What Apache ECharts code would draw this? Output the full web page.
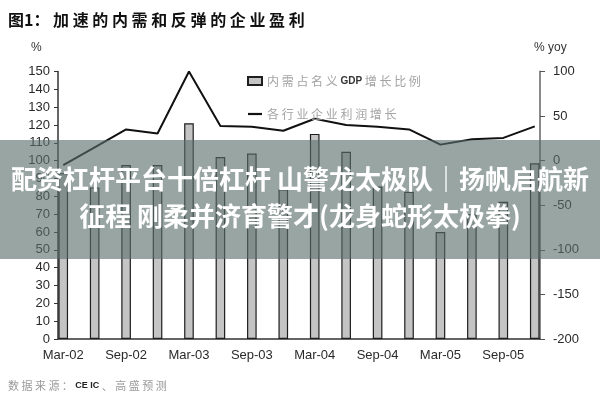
<!DOCTYPE html>
<html>
<head>
<meta charset="utf-8">
<script src="https://cdn.jsdelivr.net/npm/echarts@6/dist/echarts.min.js"></script>
<style>
html,body{margin:0;padding:0;background:#fff;}
#chart{width:600px;height:400px;}
</style>
</head>
<body>
<div id="chart"></div>
<script>
var months = ['Mar-02','Apr-02','May-02','Jun-02','Jul-02','Aug-02','Sep-02','Oct-02','Nov-02','Dec-02',
  'Jan-03','Feb-03','Mar-03','Apr-03','May-03','Jun-03','Jul-03','Aug-03','Sep-03','Oct-03','Nov-03','Dec-03',
  'Jan-04','Feb-04','Mar-04','Apr-04','May-04','Jun-04','Jul-04','Aug-04','Sep-04','Oct-04','Nov-04','Dec-04',
  'Jan-05','Feb-05','Mar-05','Apr-05','May-05','Jun-05','Jul-05','Aug-05','Sep-05','Oct-05','Nov-05','Dec-05'];
var quarters = ['Mar-02','Jun-02','Sep-02','Dec-02','Mar-03','Jun-03','Sep-03','Dec-03',
  'Mar-04','Jun-04','Sep-04','Dec-04','Mar-05','Jun-05','Sep-05','Dec-05'];
var demandShare = [93, 85, 97.5, 97.5, 121, 102, 104, 84, 115, 105, 85.5, 82.5, 60, 70, 77, 98.5];
var profitGrowth = [-5, 15, 35, 30.5, 100, 39, 38, 33.5, 47, 40, 38, 35, 18, 24, 25.5, 38.5];
var leftTicks = [0, 150, 10];
var rightTicks = [-200, 100, 50];
var barName = '内需占名义GDP增长比例';
var lineName = '各行业企业利润增长';

function byMonth(vals) {
  return months.map(function (m) {
    var i = quarters.indexOf(m);
    return i >= 0 ? vals[i] : null;
  });
}
function spaced(s) { return s.split('').join(' '); }

var chart = echarts.init(document.getElementById('chart'), null, {renderer: 'canvas'});
var axisFont = {fontFamily: 'Liberation Sans, Arial, sans-serif', fontSize: 13, color: '#2a2a2a'};
var cjk = 'Noto Sans CJK SC, sans-serif';

chart.setOption({
  animation: false,
  backgroundColor: '#fff',
  grid: {left: 58, right: 60, top: 71.5, bottom: 61},
  legend: {
    orient: 'vertical', left: 242, top: 70, itemGap: 21,
    itemWidth: 14, itemHeight: 8,
    data: [{name: barName, icon: 'rect'}, {name: lineName, icon: 'path://M0,0L14,0L14,2.2L0,2.2Z'}],
    formatter: function (n) {
      if (n === barName) return '{a|' + spaced('内需占名义') + ' }{b|GDP}{a| ' + spaced('增长比例') + '}';
      return '{a|' + spaced(n) + '}';
    },
    textStyle: {
      rich: {
        a: {fontFamily: cjk, fontSize: 12, color: '#a3a3a3'},
        b: {fontFamily: 'Liberation Sans, sans-serif', fontSize: 10, fontWeight: 'bold', color: '#333'}
      }
    }
  },
  xAxis: {
    type: 'category', data: months, boundaryGap: true,
    axisLine: {lineStyle: {color: '#333', width: 1.5}},
    axisTick: {interval: 5, length: 4, lineStyle: {color: '#333'}},
    axisLabel: Object.assign({interval: 5, margin: 10}, axisFont),
    splitLine: {show: false}
  },
  yAxis: [{
    type: 'value', min: leftTicks[0], max: leftTicks[1], interval: leftTicks[2],
    axisLine: {show: true, lineStyle: {color: '#333', width: 1.5}},
    axisTick: {show: true, length: 4, lineStyle: {color: '#333'}},
    axisLabel: Object.assign({margin: 8}, axisFont),
    splitLine: {show: false}
  }, {
    type: 'value', min: rightTicks[0], max: rightTicks[1], interval: rightTicks[2],
    position: 'right',
    axisLine: {show: true, lineStyle: {color: '#8a8a8a', width: 2}},
    axisTick: {show: true, length: 5, lineStyle: {color: '#555'}},
    axisLabel: Object.assign({margin: 13}, axisFont),
    splitLine: {show: false}
  }],
  series: [{
    name: barName, type: 'bar', data: byMonth(demandShare), yAxisIndex: 0,
    barWidth: '92%',
    itemStyle: {color: '#c4c4c4', borderColor: '#1e1e1e', borderWidth: 1.2}
  }, {
    name: lineName, type: 'line', data: byMonth(profitGrowth), yAxisIndex: 1,
    connectNulls: true, symbol: 'none',
    lineStyle: {color: '#111', width: 2},
    itemStyle: {color: '#111'}
  }],
  graphic: [
    {type: 'text', left: 8, top: 12, style: {text: '图1： ' + spaced('加速的内需和反弹的企业盈利'), font: 'bold 16px ' + cjk, fill: '#111'}},
    {type: 'text', left: 31, top: 42, style: {text: '%', font: '12px Liberation Sans, sans-serif', fill: '#333'}},
    {type: 'text', left: 534, top: 42, style: {text: '% yoy', font: '12px Liberation Sans, sans-serif', fill: '#333'}},
    {type: 'text', left: 8, top: 380, style: {
      text: '{a|' + spaced('数据来源：') + ' }{b|CE IC}{a| 、 ' + spaced('高盛预测') + '}',
      rich: {
        a: {fontFamily: cjk, fontSize: 11, fill: '#9a9a9a'},
        b: {fontFamily: 'Liberation Sans, sans-serif', fontSize: 9, fontWeight: 'bold', fill: '#222'}
      }
    }},
    {type: 'rect', z: 100, shape: {x: 0, y: 140, width: 600, height: 119}, style: {fill: 'rgba(90,110,106,0.62)'}},
    {type: 'text', z: 101, left: 'center', top: 166, style: {text: '配资杠杆平台十倍杠杆 山警龙太极队｜扬帆启航新', font: 'bold 26px ' + cjk, fill: '#fff'}},
    {type: 'text', z: 101, left: 'center', top: 203, style: {text: '征程 刚柔并济育警才(龙身蛇形太极拳)', font: 'bold 26px ' + cjk, fill: '#fff'}}
  ]
});
</script>
</body>
</html>
